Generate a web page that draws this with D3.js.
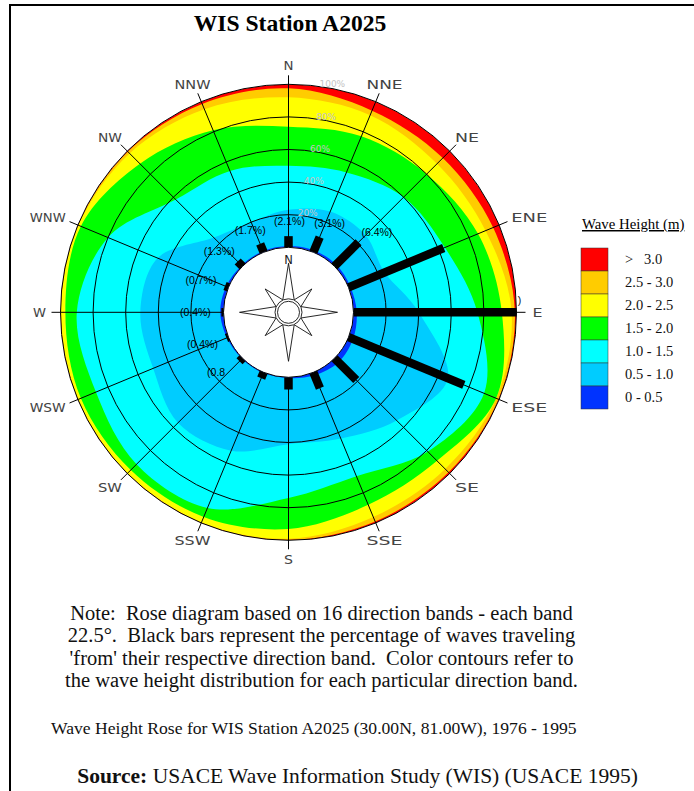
<!DOCTYPE html>
<html><head><meta charset="utf-8">
<script src="https://cdn.jsdelivr.net/npm/d3@7/dist/d3.min.js"></script>
<style>html,body{margin:0;padding:0;background:#fff}svg{display:block}</style></head>
<body><svg id="c" width="694" height="791"></svg>
<script>
const directions=["N","NNE","NE","ENE","E","ESE","SE","SSE","S","SSW","SW","WSW","W","WNW","NW","NNW"];
const barPercent=[2.1,3.1,6.4,19.4,30.7,23.5,5.8,3.2,2.3,1.2,0.8,0.4,0.4,0.7,1.3,1.7];
const barLabels=["(2.1%)","(3.1%)","(6.4%)","","","","","","","","(0.8","(0.4%)","(0.4%)","(0.7%)","(1.3%)","(1.7%)"];
const ringTicks=[20,40,60,80,100];
const legendLabels=["> 3.0","2.5 - 3.0","2.0 - 2.5","1.5 - 2.0","1.0 - 1.5","0.5 - 1.0","0 - 0.5"];
const legendColors=["#ff0000","#ffcc00","#ffff00","#00ff00","#00ffff","#00ccff","#0033ff"];
// cumulative percentage at upper edge of each wave-height band, per direction
const upTo05=[0.8,1.2,1.5,1.2,2,3,3.5,2,0.5,0.5,0.5,1,2,1.5,0.8,0.8];
const upTo10=[23,27,27,24,40,66,54,44,41,52,56,50,51,47,25,20];
const upTo15=[50,53,60,64,76,90,81,69,74,90,92,88,90,80,58,54];
const upTo20=[74,77,80,86,91,98,89,88,93,96,97,98,97,98,89,81];
const upTo25=[92,91,89,91,97,98,96,96,99,99.5,99.5,99.6,99.5,99.5,98,95];
const upTo30=[97.5,94,94,96,99,99.5,99,99,99.7,99.8,99.8,99.8,99.8,99.8,99.5,98.5];
const noteLines=["Note:  Rose diagram based on 16 direction bands - each band","22.5°.  Black bars represent the percentage of waves traveling","'from' their respective direction band.  Color contours refer to","the wave height distribution for each particular direction band."];

const svg=d3.select("#c");
const cx=288.5,cy=312.3;
const g=svg.append("g").attr("transform",`translate(${cx},${cy})`);
const r=d3.scaleLinear().domain([0,100]).range([65,228]);
const rBar=d3.scaleLinear().domain([0,30.7]).range([65,228]);
const ang=d3.scalePoint().domain(directions).range([0,2*Math.PI*15/16]);
const serif="'Liberation Serif','Times New Roman',serif", sans="'Liberation Sans',Arial,sans-serif", wide="'DejaVu Sans',sans-serif";
const radial=d3.lineRadial().angle((d,i)=>ang(directions[i])).radius(d=>r(d)).curve(d3.curveCardinalClosed.tension(0));
const facets=d3.range(64);
const ringPath=p=>d3.lineRadial().angle(i=>i*Math.PI/32).radius(r(p)).curve(d3.curveLinearClosed)(facets);

// frame
svg.append("path").attr("d","M10,791V5H694").attr("fill","none").attr("stroke","#000").attr("stroke-width",2);

// contours
svg.append("clipPath").attr("id","disk").append("path").attr("d",ringPath(100));
const fills=g.append("g").attr("clip-path","url(#disk)");
fills.append("path").attr("d",ringPath(100)).attr("fill",legendColors[0]);
[[upTo30,1],[upTo25,2],[upTo20,3],[upTo15,4],[upTo10,5],[upTo05,6]].forEach(([s,c])=>{
  fills.append("path").attr("d",radial(s)).attr("fill",legendColors[c]);
});
// rings
g.selectAll("path.ring").data(ringTicks).join("path").attr("class","ring").attr("d",d=>ringPath(d)).attr("fill","none").attr("stroke","#000").attr("stroke-width",1);

// spokes
const px=(a,rad)=>Math.sin(a)*rad, py=(a,rad)=>-Math.cos(a)*rad;
g.selectAll("line.spoke").data(directions).join("line").attr("class","spoke")
 .attr("x1",d=>px(ang(d),r(0))).attr("y1",d=>py(ang(d),r(0)))
 .attr("x2",d=>px(ang(d),237)).attr("y2",d=>py(ang(d),237))
 .attr("stroke","#000").attr("stroke-width",1);
// bars
g.selectAll("line.bar").data(directions).join("line").attr("class","bar")
 .attr("x1",d=>px(ang(d),r(0))).attr("y1",d=>py(ang(d),r(0)))
 .attr("x2",(d,i)=>px(ang(d),rBar(barPercent[i]))).attr("y2",(d,i)=>py(ang(d),rBar(barPercent[i])))
 .attr("stroke","#000").attr("stroke-width",8.5);

// ring labels
g.selectAll("text.ringlab").data(ringTicks).join("text").attr("class","ringlab")
 .attr("x",d=>px(0.19,r(d)+4)).attr("y",d=>py(0.19,r(d)+4)+3)
 .attr("text-anchor","middle").attr("font-family",wide).attr("font-size",9).attr("fill","#c4c4c4").text(d=>d+"%");

// bar labels
g.selectAll("text.barlab").data(directions).join("text").attr("class","barlab")
 .attr("x",(d,i)=>Math.sin(ang(d))*(rBar(barPercent[i])+26)-(barLabels[i].length<5?5:0)+(i==0?1:0))
 .attr("y",(d,i)=>-Math.cos(ang(d))*(rBar(barPercent[i])+15)+4)
 .attr("text-anchor","middle").attr("font-family",sans).attr("font-size",10.5).attr("fill","#000")
 .text((d,i)=>barLabels[i]);
svg.append("text").attr("x",519.5).attr("y",304).attr("font-family",sans).attr("font-size",10.5).attr("text-anchor","middle").attr("fill","#111").text(")");

// compass labels
const dirWidth={1:10,2:24,3:36};
g.selectAll("text.dir").data(directions).join("text").attr("class","dir")
 .attr("x",d=>{const s=Math.sin(ang(d));return s*244+s*Math.abs(s)*dirWidth[d.length]/2;})
 .attr("y",d=>-Math.cos(ang(d))*247+4.7)
 .attr("text-anchor","middle").attr("font-family",wide).attr("font-size",12.7)
 .attr("textLength",d=>d.length==1&&d!="W"?(d=="S"?9:10):(d=="W"?13:dirWidth[d.length]))
 .attr("lengthAdjust","spacingAndGlyphs").attr("fill","#444").text(d=>d);

// centre: hole and rose
g.append("circle").attr("r",r(0)).attr("fill","#fff").attr("stroke","#000").attr("stroke-width",1);
const starAngles=d3.range(16).map(i=>i*Math.PI/8);
const starTips=[49,13.7,33,13.7];
const starAng=d3.range(16).map(i=>{const k=Math.floor(i/4)*Math.PI/2;const m=i%4;return k+[0,0.43,Math.PI/4,Math.PI/2-0.43][m];});
const star=d3.lineRadial().angle((d,i)=>starAng[i]).radius((d,i)=>starTips[i%4]).curve(d3.curveLinearClosed);
g.append("path").attr("d",star(starAngles)).attr("fill","#fff").attr("stroke","#111").attr("stroke-width",0.9);
g.append("circle").attr("r",13.5).attr("fill","#fff").attr("stroke","#111").attr("stroke-width",0.9);
g.append("circle").attr("r",11).attr("fill","#fff").attr("stroke","#111").attr("stroke-width",0.9);
g.append("text").attr("x",0).attr("y",-48).attr("text-anchor","middle").attr("font-family",wide).attr("font-size",11.5).attr("fill","#222").text("N");

// title
svg.append("text").attr("x",290).attr("y",31).attr("text-anchor","middle").attr("font-family",serif).attr("font-weight","bold").attr("font-size",23.6).text("WIS Station A2025");

// legend
const legendY=d3.scaleBand().domain(legendLabels).range([248,409]);
svg.append("text").attr("x",582).attr("y",229).attr("font-family",serif).attr("font-size",14.8).attr("text-decoration","underline").text("Wave Height (m)");
svg.selectAll("rect.sw").data(legendLabels).join("rect").attr("class","sw").attr("x",581).attr("width",27)
 .attr("y",d=>legendY(d)).attr("height",legendY.bandwidth()).attr("fill",(d,i)=>legendColors[i]).attr("stroke","#333").attr("stroke-width",0.5);
svg.selectAll("text.lg").data(legendLabels).join("text").attr("class","lg").attr("x",625)
 .attr("y",d=>legendY(d)+legendY.bandwidth()/2+4.5).attr("font-family",serif).attr("font-size",14.5).attr("fill","#111").attr("xml:space","preserve").text(d=>d.replace(">",">  "));

// notes
svg.selectAll("text.note").data(noteLines).join("text").attr("class","note").attr("x",321.5)
 .attr("y",(d,i)=>620+i*22.3).attr("text-anchor","middle").attr("font-family",serif).attr("font-size",20.5).attr("xml:space","preserve").attr("fill","#111").text(d=>d);
svg.append("text").attr("x",51).attr("y",734).attr("font-family",serif).attr("font-size",17.6).attr("fill","#111").text("Wave Height Rose for WIS Station A2025 (30.00N, 81.00W), 1976 - 1995");
const src=svg.append("text").attr("x",357.5).attr("y",783).attr("text-anchor","middle").attr("font-family",serif).attr("font-size",21.5).attr("fill","#111");
src.append("tspan").attr("font-weight","bold").text("Source:");
src.append("tspan").text(" USACE Wave Information Study (WIS) (USACE 1995)");
</script></body></html>
